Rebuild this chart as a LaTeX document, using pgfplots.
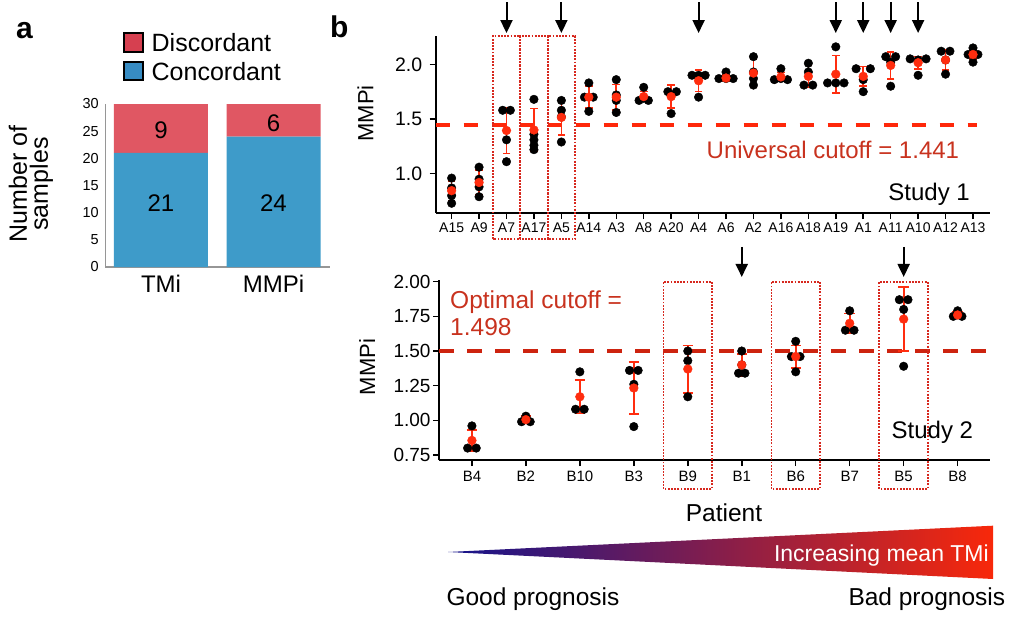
\documentclass[border=0pt]{standalone}
\usepackage{pgfplots}
\usepackage{pgfplotstable}
\pgfplotsset{compat=1.18}
\usetikzlibrary{arrows.meta,shadings}
\usepackage{fontspec}
\setmainfont{Liberation Sans}
\pgfplotsset{/pgf/number format/assume math mode=true}

\definecolor{discbar}{RGB}{224,87,99}
\definecolor{concbar}{RGB}{62,155,201}
\definecolor{disclg}{RGB}{214,64,80}
\definecolor{conclg}{RGB}{55,140,195}
\definecolor{cutred}{RGB}{255,40,10}
\definecolor{cutdark}{RGB}{205,35,15}
\definecolor{txtred}{RGB}{200,50,30}
\definecolor{boxred}{RGB}{215,40,30}
\definecolor{meanred}{RGB}{255,45,15}
\definecolor{gblue}{RGB}{20,20,140}
\definecolor{gpurp}{RGB}{90,28,100}
\definecolor{gred}{RGB}{248,40,10}
\definecolor{axgray}{RGB}{150,150,150}

% Study 1 individual samples (x = patient index with small horizontal offset)
\pgfplotstableread{
x y
0 0.96
0 0.87
0 0.80
0 0.73
1 1.06
1 0.95
1 0.88
1 0.79
1.86 1.58
2.14 1.58
2 1.31
2 1.11
3 1.68
3 1.36
3 1.31
3 1.26
3 1.22
4 1.67
4 1.58
4 1.52
4 1.29
5 1.83
4.84 1.70
5.16 1.70
5 1.57
6 1.86
6 1.72
6 1.67
6 1.56
7 1.79
6.83 1.67
7.17 1.67
7 1.69
7.88 1.75
8.19 1.75
8 1.72
8 1.55
8.76 1.90
9.24 1.90
9 1.90
9 1.70
10 1.93
9.74 1.87
10.26 1.87
10 1.87
11 2.07
11 1.93
11 1.87
11 1.81
12 1.96
11.76 1.86
12.24 1.86
12 1.87
13 2.01
13 1.93
12.84 1.81
13.16 1.81
14 2.16
13.70 1.83
14 1.83
14.30 1.83
14.74 1.96
15.26 1.96
15 1.86
15 1.75
15.82 2.07
16.18 2.07
16 2.02
16 1.80
16.71 2.05
17.29 2.05
17 2.04
17 1.90
17.84 2.12
18.16 2.12
18 2.04
18 1.91
19 2.15
18.82 2.09
19.18 2.09
19 2.02
}\upperdots

\pgfplotstableread{
x y err
0 0.845 0.09
1 0.92 0.115
2 1.395 0.21
3 1.40 0.195
4 1.515 0.16
5 1.70 0.10
6 1.70 0.115
7 1.705 0.045
8 1.705 0.105
9 1.85 0.10
10 1.875 0.03
11 1.92 0.13
12 1.885 0.04
13 1.89 0.10
14 1.91 0.17
15 1.89 0.09
16 1.99 0.125
17 2.015 0.055
18 2.04 0.09
19 2.09 0.04
}\uppermeans

% Study 2 individual samples
\pgfplotstableread{
x y
0 0.96
-0.08 0.80
0.08 0.80
1 1.03
0.92 0.99
1.08 0.99
2 1.35
1.92 1.08
2.08 1.08
2.92 1.36
3.08 1.36
3 1.26
3 0.955
4 1.50
4 1.43
4 1.17
5 1.50
5 1.40
4.94 1.34
5.06 1.34
6 1.57
5.92 1.46
6.08 1.46
6 1.35
7 1.79
6.92 1.65
7.08 1.65
7.92 1.87
8.08 1.87
8 1.80
8 1.39
9 1.79
8.92 1.75
9.08 1.75
}\lowerdots

\pgfplotstableread{
x y err
0 0.855 0.075
1 1.005 0.025
2 1.17 0.12
3 1.233 0.19
4 1.37 0.17
5 1.40 0.08
6 1.46 0.08
7 1.70 0.07
8 1.73 0.23
9 1.76 0.025
}\lowermeans

\pgfplotsset{
  dotsstyle/.style={only marks, mark=*, mark size=4.3bp, black, mark options={fill=black, draw=black}},
  meanstyle/.style 2 args={only marks, mark=*, mark size=4.4bp, meanred, mark options={fill=meanred, draw=meanred},
    error bars/.cd, y dir=both, y explicit,
    error bar style={meanred, line width=#1},
    error mark options={rotate=90, meanred, mark size=#2, line width=#1}},
}
\tikzset{boxstyle/.style={boxred, line width=1.8bp, dash pattern=on 1.8bp off 1.4bp}}

\begin{document}
\begin{tikzpicture}

% ---------------- panel a : stacked bars ----------------
\begin{axis}[
  at={(105.3bp,-267bp)}, anchor=south west,
  scale only axis, width=224.7bp, height=163bp,
  xmin=-0.495, xmax=1.502, ymin=0, ymax=30,
  ybar stacked, bar width=94bp,
  axis x line*=bottom, axis y line*=left,
  axis line style={axgray, line width=1.2bp},
  major tick length=0pt,
  ytick={0,5,...,30},
  yticklabel style={font=\fontsize{14.5bp}{16bp}\selectfont, xshift=-3bp},
  xtick={0,1}, xticklabels={TMi,MMPi},
  xticklabel style={font=\fontsize{24bp}{28bp}\selectfont, yshift=-5bp},
  clip=false,
]
\addplot[fill=concbar, draw=none] coordinates {(0,21) (1,24)};
\addplot[fill=discbar, draw=none] coordinates {(0,9) (1,6)};
\end{axis}

% ---------------- panel b, Study 1 ----------------
\begin{axis}[
  at={(435.7bp,-213bp)}, anchor=south west,
  scale only axis, width=554.3bp, height=177bp,
  xmin=-0.58, xmax=19.62, ymin=0.641, ymax=2.259,
  axis x line*=bottom, axis y line*=left,
  axis line style={black, line width=1.8bp},
  tick style={black, line width=1.5bp},
  tick align=outside, major tick length=6bp,
  xtick={0,...,19},
  xticklabels={A15,A9,A7,A17,A5,A14,A3,A8,A20,A4,A6,A2,A16,A18,A19,A1,A11,A10,A12,A13},
  xticklabel style={font=\fontsize{14bp}{17bp}\selectfont},
  ytick={1,1.5,2},
  yticklabel style={font=\fontsize{19.5bp}{22bp}\selectfont, xshift=-4bp,
    /pgf/number format/fixed, /pgf/number format/fixed zerofill, /pgf/number format/precision=1},
  clip=false,
]
\addplot[cutred, line width=4bp, dash pattern=on 14bp off 14bp] coordinates {(-0.58,1.441) (19.15,1.441)};
\addplot[dotsstyle] table[x=x, y=y] {\upperdots};
\addplot[meanstyle={1.6bp}{3.8bp}] table[x=x, y=y, y error=err] {\uppermeans};
\draw[boxstyle] (axis cs:1.5,0.403) rectangle (axis cs:2.5,2.259);
\draw[boxstyle] (axis cs:2.5,0.403) rectangle (axis cs:3.5,2.259);
\draw[boxstyle] (axis cs:3.5,0.403) rectangle (axis cs:4.5,2.259);
\pgfplotsinvokeforeach{2,4,9,14,15,16,17}{
  \draw[black, line width=2bp, -{Triangle[length=13bp,width=12bp]}]
    (axis cs:#1,2.569) -- (axis cs:#1,2.286);
}
\end{axis}

% ---------------- panel b, Study 2 ----------------
\begin{axis}[
  at={(439bp,-460bp)}, anchor=south west,
  scale only axis, width=551bp, height=180bp,
  xmin=-0.61, xmax=9.6, ymin=0.714, ymax=2.012,
  axis x line*=bottom, axis y line*=left,
  axis line style={black, line width=1.8bp},
  tick style={black, line width=1.5bp},
  tick align=outside, major tick length=6bp,
  xtick={0,...,9},
  xticklabels={B4,B2,B10,B3,B9,B1,B6,B7,B5,B8},
  xticklabel style={font=\fontsize{15bp}{18bp}\selectfont, yshift=-1.5bp},
  ytick={0.75,1,1.25,1.5,1.75,2},
  yticklabel style={font=\fontsize{19bp}{22bp}\selectfont, xshift=1bp,
    /pgf/number format/fixed, /pgf/number format/fixed zerofill, /pgf/number format/precision=2},
  clip=false,
]
\addplot[cutdark, line width=4bp, dash pattern=on 15bp off 13bp] coordinates {(-0.61,1.498) (9.6,1.498)};
\addplot[dotsstyle] table[x=x, y=y] {\lowerdots};
\addplot[meanstyle={1.8bp}{5.2bp}] table[x=x, y=y, y error=err] {\lowermeans};
\draw[boxstyle] (axis cs:3.55,0.505) rectangle (axis cs:4.45,2.0);
\draw[boxstyle] (axis cs:5.55,0.505) rectangle (axis cs:6.45,2.0);
\draw[boxstyle] (axis cs:7.55,0.505) rectangle (axis cs:8.45,2.0);
\pgfplotsinvokeforeach{5,8}{
  \draw[black, line width=2bp, -{Triangle[length=13bp,width=12bp]}]
    (axis cs:#1,2.251) -- (axis cs:#1,2.034);
}
\end{axis}

% ---------------- annotations (image pixel coordinates) ----------------
\begin{scope}[x=1bp, y=-1bp]
\node[anchor=base west, inner sep=0, font=\fontsize{30bp}{36bp}\selectfont\bfseries] at (16,38) {a};
\node[anchor=base west, inner sep=0, font=\fontsize{30bp}{36bp}\selectfont\bfseries] at (330,37) {b};

% counts written on the stacked bars
\node[font=\fontsize{24bp}{28bp}\selectfont, inner sep=0] at (161,203.3) {21};
\node[font=\fontsize{24bp}{28bp}\selectfont, inner sep=0] at (273.5,203.3) {24};
\node[font=\fontsize{24bp}{28bp}\selectfont, inner sep=0] at (161,130) {9};
\node[font=\fontsize{24bp}{28bp}\selectfont, inner sep=0] at (273.5,123.3) {6};

\draw[fill=disclg, line width=1.5bp] (124,33) rectangle (143,52);
\draw[fill=conclg, line width=1.5bp] (124,62) rectangle (143,80);
\node[anchor=base west, inner sep=0, font=\fontsize{25bp}{30bp}\selectfont] at (151.5,51.7) {Discordant};
\node[anchor=base west, inner sep=0, font=\fontsize{25bp}{30bp}\selectfont] at (151.5,80) {Concordant};
\node[rotate=90, align=center, inner sep=0, font=\fontsize{25bp}{21bp}\selectfont] at (31,184) {Number of\\samples};

\node[rotate=90, anchor=base, inner sep=0, font=\fontsize{22bp}{26bp}\selectfont] at (373.3,113.3) {MMPi};
\node[rotate=90, anchor=base, inner sep=0, font=\fontsize{22bp}{26bp}\selectfont] at (375,367) {MMPi};

\node[anchor=base west, inner sep=0, text=txtred, font=\fontsize{24bp}{28bp}\selectfont] at (706.5,158.3) {Universal cutoff = 1.441};
\node[anchor=base east, inner sep=0, font=\fontsize{24bp}{28bp}\selectfont] at (970,200) {Study 1};

\node[anchor=base west, inner sep=0, text=txtred, font=\fontsize{24.5bp}{28bp}\selectfont] at (450,308.3) {Optimal cutoff =};
\node[anchor=base west, inner sep=0, text=txtred, font=\fontsize{24.5bp}{28bp}\selectfont] at (450,335) {1.498};
\node[anchor=base east, inner sep=0, font=\fontsize{24bp}{28bp}\selectfont] at (973.3,438) {Study 2};

\node[anchor=base, inner sep=0, font=\fontsize{24.5bp}{28bp}\selectfont] at (724,521.7) {Patient};

\shade[left color=gblue, middle color=gpurp, right color=gred] (448,552) -- (993,525.7) -- (993,579) -- cycle;
\node[anchor=base east, inner sep=0, text=white, font=\fontsize{23bp}{26bp}\selectfont] at (989,561.7) {Increasing mean TMi};
\node[anchor=base west, inner sep=0, font=\fontsize{24.5bp}{28bp}\selectfont] at (446.3,605) {Good prognosis};
\node[anchor=base west, inner sep=0, font=\fontsize{24.5bp}{28bp}\selectfont] at (848.3,605) {Bad prognosis};
\end{scope}

\pgfresetboundingbox
\useasboundingbox (0,0) rectangle (1009bp,-619bp);
\end{tikzpicture}
\end{document}
